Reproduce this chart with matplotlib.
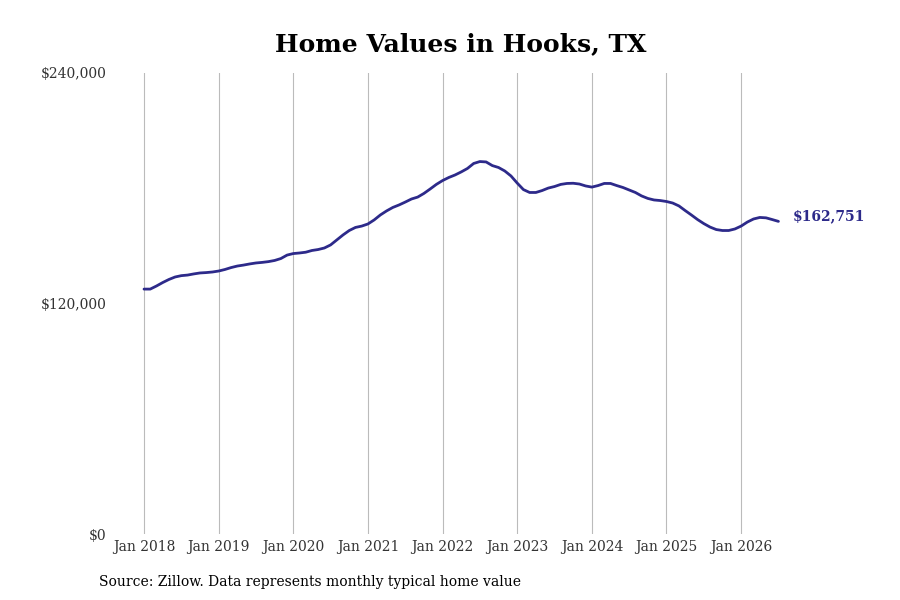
import matplotlib
matplotlib.use("Agg")
import matplotlib.pyplot as plt
import numpy as np

# Monthly typical home values, Jan 2018 .. Jul 2026
values = [
    127500, 127500, 129100, 130900, 132500, 133800, 134500, 134800, 135400, 135900, 136100, 136400,
    136900, 137700, 138700, 139500, 140000, 140600, 141100, 141400, 141800, 142400, 143400, 145200,
    146000, 146300, 146700, 147600, 148100, 148900, 150500, 153100, 155700, 158000, 159600, 160300,
    161400, 163500, 166100, 168200, 170000, 171300, 172800, 174400, 175400, 177300, 179600, 182000,
    184000, 185600, 186900, 188500, 190300, 192900, 193900, 193700, 191800, 190800, 189000, 186400,
    182700, 179300, 177800, 177800, 178800, 180100, 180900, 182000, 182500, 182600, 182200, 181200,
    180600, 181400, 182500, 182500, 181400, 180400, 179100, 177800, 176000, 174700, 173900, 173600,
    173100, 172300, 170800, 168400, 166100, 163700, 161600, 159800, 158500, 158000, 158000, 158800,
    160300, 162400, 164000, 164800, 164600, 163700, 162751,
]
months = list(range(len(values)))
tick_pos = [0, 12, 24, 36, 48, 60, 72, 84, 96]
tick_labels = ["Jan 2018", "Jan 2019", "Jan 2020", "Jan 2021", "Jan 2022",
               "Jan 2023", "Jan 2024", "Jan 2025", "Jan 2026"]
y_ticks = [0, 120000, 240000]
y_labels = ["$0", "$120,000", "$240,000"]
title = "Home Values in Hooks, TX"
source = "Source: Zillow. Data represents monthly typical home value"
end_label = "$162,751"

color = "#2d2a8a"
plt.rcParams["font.family"] = ["DejaVu Serif"]

fig = plt.figure(figsize=(9, 6), dpi=100)
ax = fig.add_axes([115 / 900, 66 / 600, 675 / 900, 461 / 600])

ax.plot(months, values, color=color, lw=2.0, solid_capstyle="round", zorder=3)

px_per_month = 6.22
ax.set_xlim((115 - 144) / px_per_month, (790 - 144) / px_per_month)
ax.set_ylim(0, 240000)

ax.set_xticks(tick_pos)
ax.set_xticklabels(tick_labels, fontsize=10, color="#333333")
ax.set_yticks(y_ticks)
ax.set_yticklabels(y_labels, fontsize=10, color="#333333")
ax.tick_params(axis="both", length=0)
ax.tick_params(axis="y", pad=6)
ax.tick_params(axis="x", pad=4)

ax.grid(axis="x", color="#bbbbbb", lw=0.8)
ax.grid(axis="y", visible=False)
for s in ax.spines.values():
    s.set_visible(False)

ax.annotate(end_label, xy=(months[-1], values[-1]), xytext=(10, 4),
            textcoords="offset points", color=color, fontsize=10,
            fontweight="bold", va="center", ha="left", annotation_clip=False)

fig.text(461 / 900, 1 - 44 / 600, title, ha="center", va="center",
         fontsize=18, fontweight="bold", color="black")
fig.text(99 / 900, 1 - 582 / 600, source, ha="left", va="center",
         fontsize=10, color="black")

fig.savefig("out.png", dpi=100)
